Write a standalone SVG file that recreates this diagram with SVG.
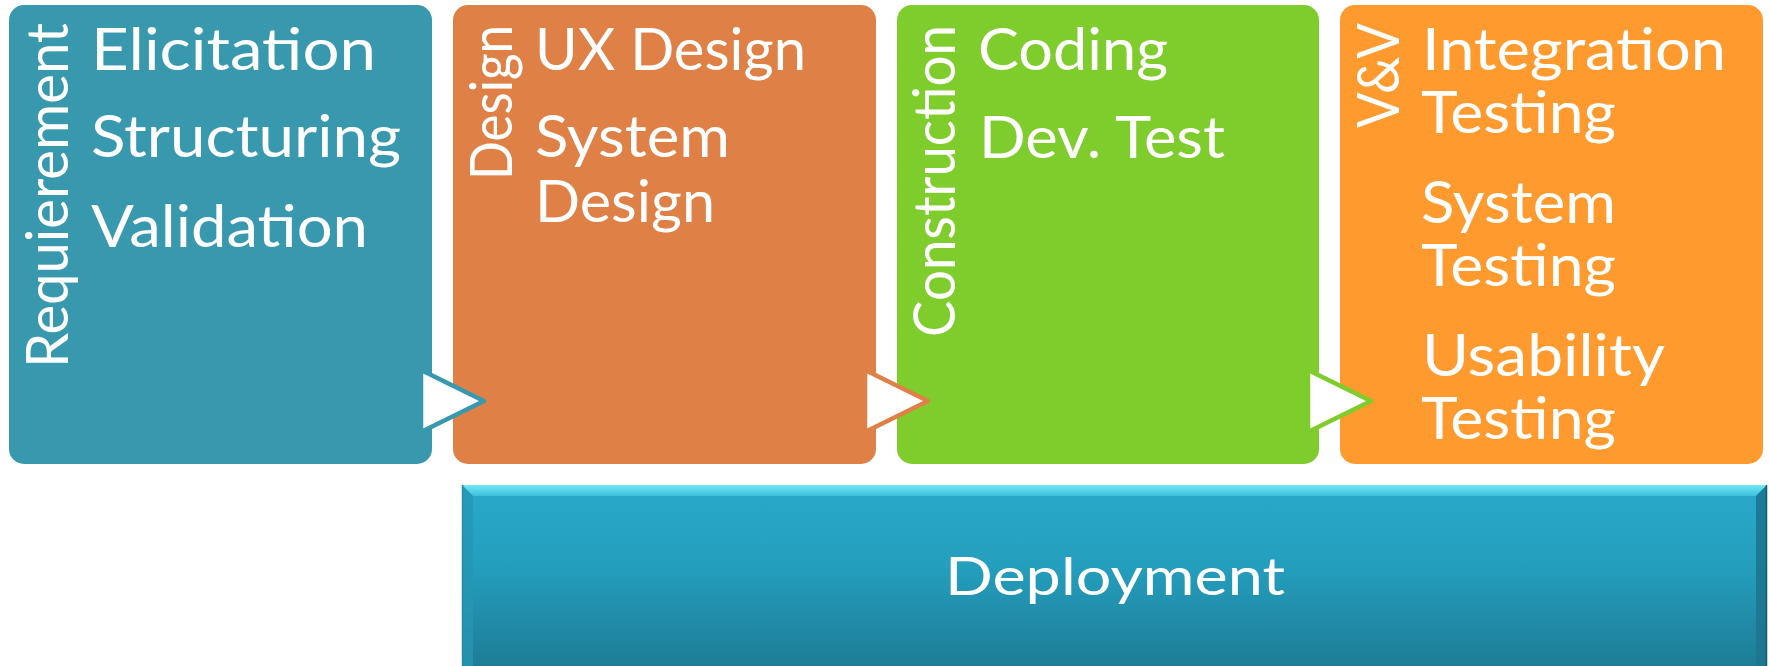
<svg xmlns="http://www.w3.org/2000/svg" width="1769" height="666" viewBox="0 0 1769 666">
<style>
.t{font-family:Lato,"Open Sans","Liberation Sans",sans-serif;font-size:59px;fill:#ffffff;}
.d{font-family:Lato,"Open Sans","Liberation Sans",sans-serif;font-size:53px;fill:#ffffff;}
.arr{fill:#ffffff;stroke-width:4.5;stroke-linejoin:round;}
</style>
<defs>
<linearGradient id="gDep" x1="0" y1="0" x2="0" y2="1">
<stop offset="0" stop-color="#29AACB"/>
<stop offset="0.45" stop-color="#249EBD"/>
<stop offset="1" stop-color="#1E7C96"/>
</linearGradient>
<linearGradient id="gTop" x1="0" y1="0" x2="0" y2="1">
<stop offset="0" stop-color="#72E8FA"/>
<stop offset="1" stop-color="#3CC0DC"/>
</linearGradient>
</defs>

<g id="deployment">
<rect x="462" y="485" width="1305" height="181" fill="url(#gDep)"/>
<polygon points="462,485 1767,485 1756,496 473,496" fill="url(#gTop)"/>
<polygon points="462,485 473,496 473,666 462,666" fill="#2596B4" opacity="0.8"/>
<polygon points="1767,485 1756,496 1756,666 1767,666" fill="#1C7690" opacity="0.9"/>
<line x1="1766.5" y1="485" x2="1766.5" y2="666" stroke="#15586B" stroke-width="1.5"/>
<line x1="462.5" y1="485" x2="462.5" y2="666" stroke="#2A88A0" stroke-width="1.5"/>
<text class="d" x="1115" y="595" text-anchor="middle" textLength="340" lengthAdjust="spacingAndGlyphs">Deployment</text>
</g>

<g id="requirement">
<rect x="9" y="5" width="423" height="459" rx="15" fill="#3798AE"/>
<text class="t" transform="translate(68,368) rotate(-90)" textLength="345" lengthAdjust="spacingAndGlyphs">Requierement</text>
<text class="t" x="91" y="70" textLength="285" lengthAdjust="spacingAndGlyphs">Elicitation</text>
<text class="t" x="91" y="157" textLength="310" lengthAdjust="spacingAndGlyphs">Structuring</text>
<text class="t" x="91" y="247" textLength="277" lengthAdjust="spacingAndGlyphs">Validation</text>
</g>

<g id="design">
<rect x="453" y="5" width="423" height="459" rx="15" fill="#DF8146"/>
<text class="t" transform="translate(512,180) rotate(-90)" textLength="155" lengthAdjust="spacingAndGlyphs">Design</text>
<text class="t" x="535" y="70" textLength="271" lengthAdjust="spacingAndGlyphs">UX Design</text>
<text class="t"><tspan x="535" y="157" textLength="195" lengthAdjust="spacingAndGlyphs">System</tspan><tspan x="535" y="222" textLength="180" lengthAdjust="spacingAndGlyphs">Design</tspan></text>
</g>

<g id="construction">
<rect x="897" y="5" width="422" height="459" rx="15" fill="#7FCC2D"/>
<text class="t" transform="translate(955,337) rotate(-90)" textLength="312" lengthAdjust="spacingAndGlyphs">Construction</text>
<text class="t" x="978" y="70" textLength="190" lengthAdjust="spacingAndGlyphs">Coding</text>
<text class="t" x="979" y="158" textLength="246" lengthAdjust="spacingAndGlyphs">Dev. Test</text>
</g>

<g id="vv">
<rect x="1340" y="5" width="423" height="459" rx="15" fill="#FE9A2E"/>
<text class="t" transform="translate(1399,128) rotate(-90)" textLength="105" lengthAdjust="spacingAndGlyphs">V&amp;V</text>
<text class="t"><tspan x="1422" y="70" textLength="304" lengthAdjust="spacingAndGlyphs">Integration</tspan><tspan x="1421" y="133" textLength="195" lengthAdjust="spacingAndGlyphs">Testing</tspan></text>
<text class="t"><tspan x="1421" y="223" textLength="195" lengthAdjust="spacingAndGlyphs">System</tspan><tspan x="1421" y="286" textLength="195" lengthAdjust="spacingAndGlyphs">Testing</tspan></text>
<text class="t"><tspan x="1422" y="376" textLength="243" lengthAdjust="spacingAndGlyphs">Usability</tspan><tspan x="1421" y="439" textLength="195" lengthAdjust="spacingAndGlyphs">Testing</tspan></text>
</g>

<g id="connectors">
<polygon class="arr" points="421,370 484,401 421,432" stroke="#3798AE"/>
<polygon class="arr" points="865,370 928,401 865,432" stroke="#DF8146"/>
<polygon class="arr" points="1308,370 1371,401 1308,432" stroke="#7FCC2D"/>
</g>
</svg>
